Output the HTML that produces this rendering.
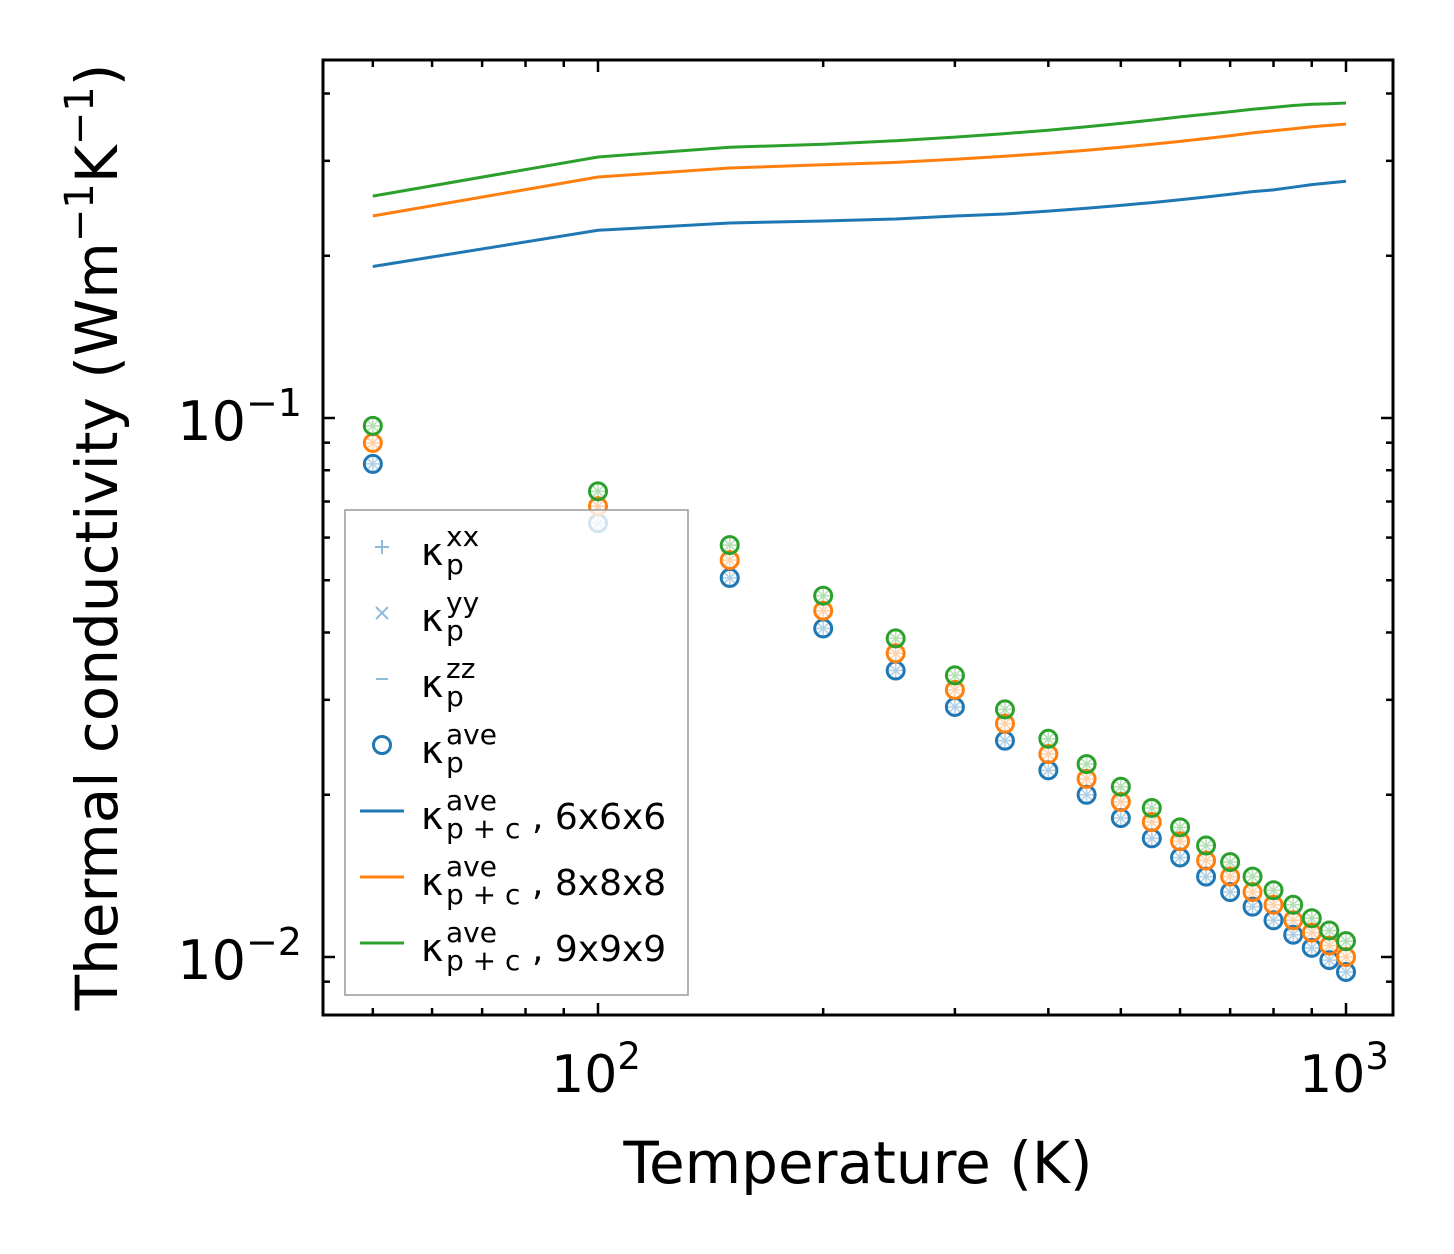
<!DOCTYPE html>
<html><head><meta charset="utf-8"><style>
body{margin:0;background:#fff;}
svg{display:block;font-family:"DejaVu Sans","Liberation Sans",sans-serif;}
</style></head><body>
<svg id="chart" width="1454" height="1254" viewBox="0 0 1454 1254" xmlns="http://www.w3.org/2000/svg">
<g id="marks"></g>
<rect x="323" y="60" width="1070" height="955" fill="none" stroke="#000" stroke-width="3"/>
<g id="ticks"></g>
<g font-size="52" text-anchor="middle">
<text x="596" y="1092">10<tspan font-size="37" dy="-23">2</tspan></text>
<text x="1344" y="1092">10<tspan font-size="37" dy="-23">3</tspan></text>
</g>
<g font-size="54" text-anchor="end">
<text x="302" y="440">10<tspan font-size="38" dy="-24">−1</tspan></text>
<text x="302" y="979">10<tspan font-size="38" dy="-24">−2</tspan></text>
</g>
<text x="858" y="1183" font-size="58" text-anchor="middle">Temperature (K)</text>
<text transform="translate(117,537) rotate(-90)" font-size="58" text-anchor="middle">Thermal conductivity (Wm<tspan font-size="40" dy="-24">−1</tspan><tspan dy="24">K</tspan><tspan font-size="40" dy="-24">−1</tspan><tspan dy="24">)</tspan></text>
<g id="legend">
<rect x="345" y="510" width="343" height="485" fill="#fff" fill-opacity="0.8" stroke="#999" stroke-width="1.5"/>
</g>
</svg>
<script>
const temps=[50,100,150,200,250,300,350,400,450,500,550,600,650,700,750,800,850,900,950,1000];
const kp6=[0.0822,0.0638,0.0505,0.0407,0.0340,0.0291,0.0252,0.0222,0.0200,0.0181,0.0166,0.0153,0.0141,0.0132,0.0124,0.0117,0.0110,0.0104,0.00987,0.00938];
const kp8=[0.0899,0.0686,0.0545,0.0439,0.0366,0.0313,0.0271,0.0238,0.0214,0.0194,0.0178,0.0164,0.0151,0.0141,0.0132,0.0125,0.0117,0.0111,0.0105,0.0100];
const kp9=[0.0967,0.0731,0.0581,0.0468,0.0390,0.0333,0.0288,0.0254,0.0228,0.0207,0.0189,0.0174,0.0161,0.0150,0.0141,0.0133,0.0125,0.0118,0.0112,0.0107];
const kpc6=[0.191,0.223,0.230,0.232,0.234,0.237,0.239,0.242,0.245,0.248,0.251,0.254,0.257,0.260,0.263,0.265,0.268,0.271,0.273,0.275];
const kpc8=[0.237,0.280,0.291,0.295,0.298,0.302,0.306,0.310,0.314,0.318,0.322,0.326,0.330,0.334,0.338,0.341,0.344,0.347,0.349,0.351];
const kpc9=[0.258,0.305,0.318,0.322,0.327,0.332,0.337,0.342,0.347,0.352,0.357,0.362,0.366,0.370,0.374,0.377,0.380,0.382,0.383,0.384];
const xMajor=[100,1000];
const xMinor=[50,60,70,80,90,200,300,400,500,600,700,800,900];
const yMajor=[0.1,0.01];
const yMinor=[0.009,0.02,0.03,0.04,0.05,0.06,0.07,0.08,0.09,0.2,0.3,0.4];
const NS="http://www.w3.org/2000/svg";
const X=v=>598+(Math.log10(v)-2)*748;
const Y=v=>418-(Math.log10(v)+1)*539;
const colors=["#1f77b4","#ff7f0e","#2ca02c"];
function mk(tag,attrs,parent){const e=document.createElementNS(NS,tag);for(const k in attrs)e.setAttribute(k,attrs[k]);parent.appendChild(e);return e;}
const marks=document.getElementById('marks');
[kpc6,kpc8,kpc9].forEach((s,i)=>{
 const d=s.map((v,j)=>(j?'L':'M')+X(temps[j]).toFixed(1)+','+Y(v).toFixed(1)).join('');
 const p=mk('path',{d:d,fill:'none',stroke:colors[i],'stroke-width':3},marks);
 
 
});
[kp6,kp8,kp9].forEach((s,i)=>{
 s.forEach((v,j)=>{
  const cx=X(temps[j]),cy=Y(v);
  const g=mk('g',{},marks);
  
  
  mk('path',{d:`M${cx-7},${cy}h14M${cx},${cy-7}v14M${cx-5},${cy-5}l10,10M${cx-5},${cy+5}l10,-10`,stroke:colors[i],'stroke-opacity':0.35,'stroke-width':1.5},g);
  mk('circle',{cx:cx,cy:cy,r:8.5,fill:'none',stroke:colors[i],'stroke-width':3},g);
 });
});
const ticks=document.getElementById('ticks');
function tk(x1,y1,x2,y2){const l=mk('line',{x1,y1,x2,y2,stroke:'#000','stroke-width':2.5},ticks);}
xMajor.forEach(v=>{const x=X(v);tk(x,1015,x,1003);tk(x,60,x,72);});
xMinor.forEach(v=>{const x=X(v);tk(x,1015,x,1008);tk(x,60,x,67);});
yMajor.forEach(v=>{const y=Y(v);tk(323,y,335,y);tk(1393,y,1381,y);});
yMinor.forEach(v=>{const y=Y(v);tk(323,y,330,y);tk(1393,y,1386,y);});
const lg=document.getElementById('legend');
const entries=[['+','kp-xx','xx','p'],['x','kp-yy','yy','p'],['-','kp-zz','zz','p'],['o','kp-ave','ave','p'],['l0','kpc-6','ave','p + c',', 6x6x6'],['l1','kpc-8','ave','p + c',', 8x8x8'],['l2','kpc-9','ave','p + c',', 9x9x9']];
entries.forEach((e,i)=>{
 const cy=547+i*66;
 const g=mk('g',{},lg);
 
 
 const c=colors[0];
 if(e[0]=='+')mk('path',{d:`M375,${cy}h14M382,${cy-7}v14`,stroke:c,'stroke-opacity':0.5,'stroke-width':2},g);
 else if(e[0]=='x')mk('path',{d:`M376,${cy-6}l12,12M376,${cy+6}l12,-12`,stroke:c,'stroke-opacity':0.5,'stroke-width':2},g);
 else if(e[0]=='-')mk('path',{d:`M376,${cy}h12`,stroke:c,'stroke-opacity':0.5,'stroke-width':2},g);
 else if(e[0]=='o')mk('circle',{cx:382,cy:cy,r:8.5,fill:'none',stroke:c,'stroke-width':3},g);
 else mk('line',{x1:360,y1:cy,x2:404,y2:cy,stroke:colors[+e[0][1]],'stroke-width':3},g);
 mk('text',{x:421,y:cy+18,'font-size':38},g).textContent='κ';
 mk('text',{x:446,y:cy-1,'font-size':28},g).textContent=e[2];
 mk('text',{x:446,y:cy+27,'font-size':28},g).textContent=e[3];
 if(e[4])mk('text',{x:532,y:cy+18,'font-size':36},g).textContent=e[4];
});
</script>
</body></html>
